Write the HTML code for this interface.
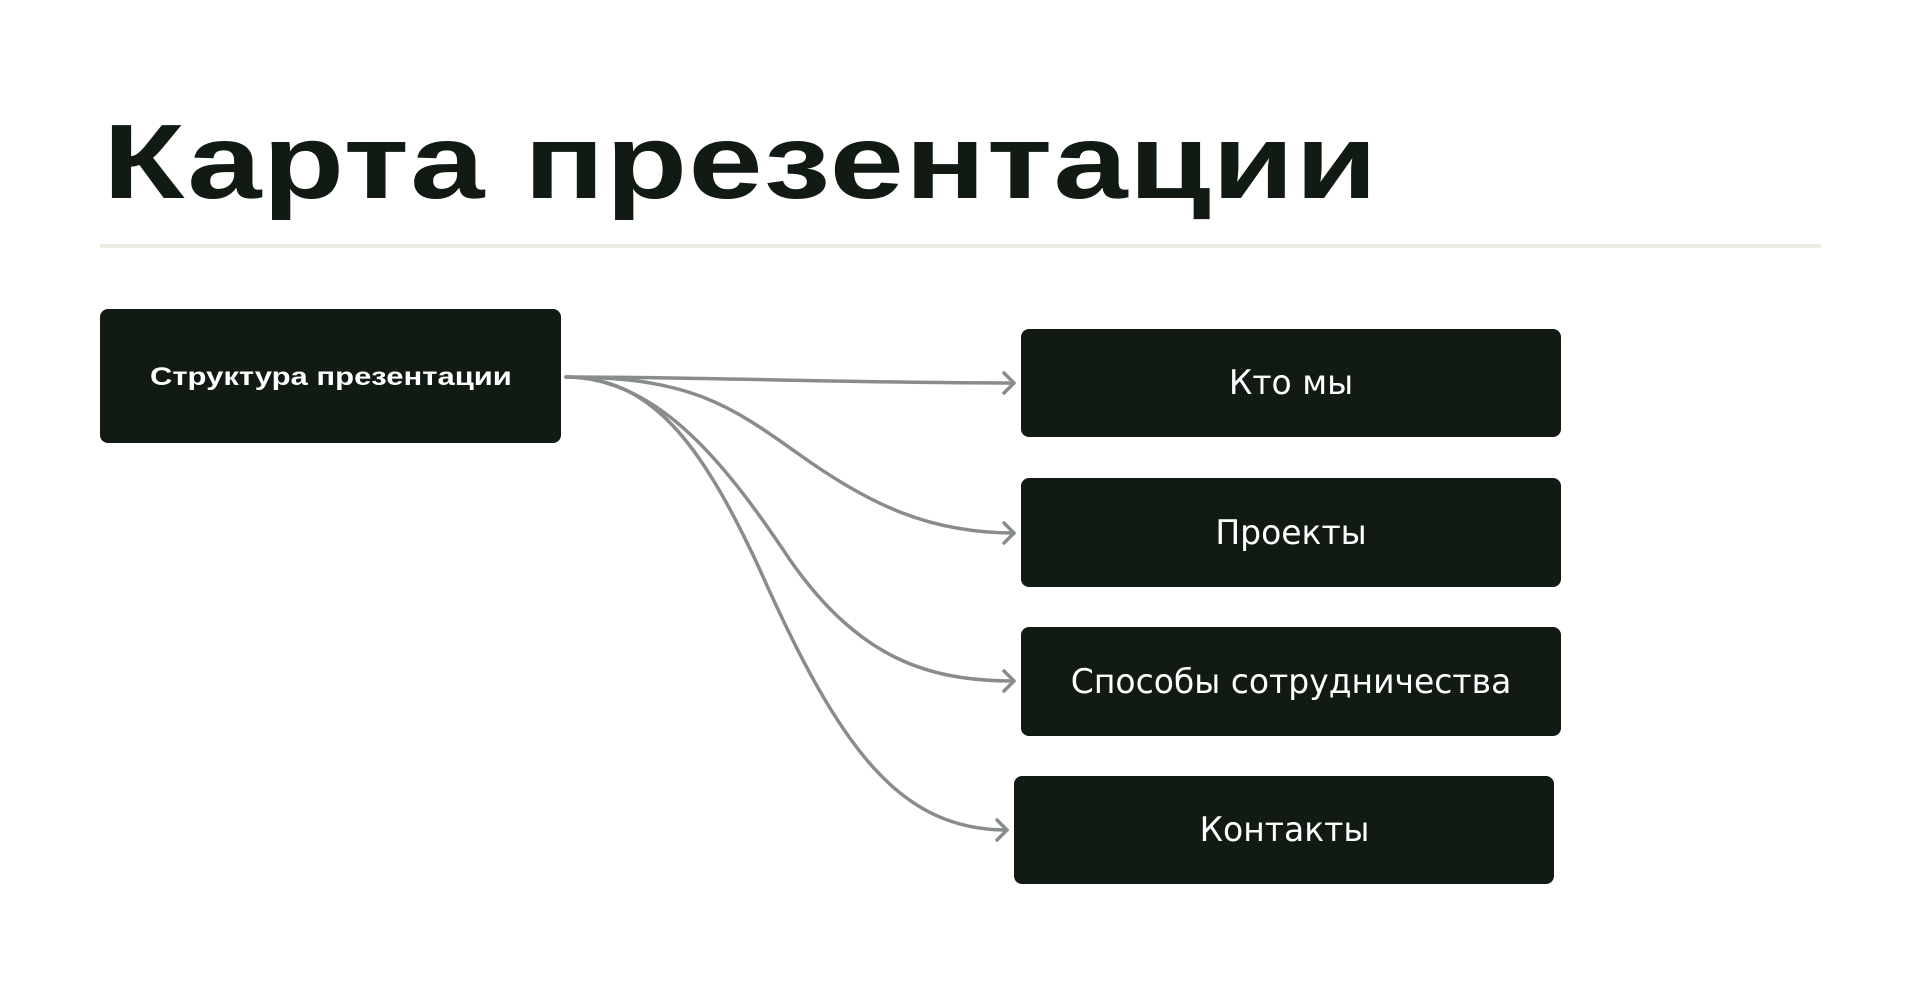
<!DOCTYPE html>
<html><head><meta charset="utf-8"><style>
body{margin:0;width:1920px;height:1008px;background:#fff;overflow:hidden;position:relative;font-family:"Liberation Sans","DejaVu Sans",sans-serif}
.t{position:absolute;left:103px;top:102px;font-size:106px;font-weight:bold;color:#111a13;white-space:nowrap;transform-origin:0 0;transform:scaleX(1.258);letter-spacing:1px}
.line{position:absolute;left:100px;top:244px;width:1721px;height:4px;background:#efebe5}
.b{position:absolute;background:#111a13;border-radius:8px;color:#fff;display:flex;align-items:center;justify-content:center;font-size:34px;font-family:"DejaVu Sans",sans-serif;font-weight:normal}
.b span{display:inline-block;transform:scaleX(0.97)}
</style></head><body>
<div class="t">Карта презентации</div>
<div class="line"></div>
<div class="b" style="left:100px;top:309px;width:461px;height:134px;font-family:'Liberation Sans',sans-serif;font-weight:bold;font-size:25px"><span style="transform:scaleX(1.24);position:relative;top:1px">Структура презентации</span></div>
<div class="b" style="left:1021px;top:329px;width:540px;height:108px"><span>Кто мы</span></div>
<div class="b" style="left:1021px;top:478px;width:540px;height:109px"><span>Проекты</span></div>
<div class="b" style="left:1021px;top:627px;width:540px;height:109px"><span>Способы сотрудничества</span></div>
<div class="b" style="left:1014px;top:776px;width:540px;height:108px"><span>Контакты</span></div>
<svg width="1920" height="1008" style="position:absolute;left:0;top:0" fill="none" stroke="#898d8a" stroke-width="3.5" stroke-linecap="round" stroke-linejoin="round">
<path d="M566 377 C700 377 850 383 1014 383"/>
<path d="M1004 373 L1014 383 L1004 393"/>
<path d="M566 377 C690 377 730 405 800 455 C870 505 930 533 1014 533"/>
<path d="M1004 523 L1014 533 L1004 543"/>
<path d="M566 377 C660 377 730 470 790 560 C860 660 930 681 1014 681"/>
<path d="M1004 671 L1014 681 L1004 691"/>
<path d="M566 377 C650 377 700 440 760 570 C840 750 900 830 1007 830"/>
<path d="M997 820 L1007 830 L997 840"/>
</svg>
</body></html>
